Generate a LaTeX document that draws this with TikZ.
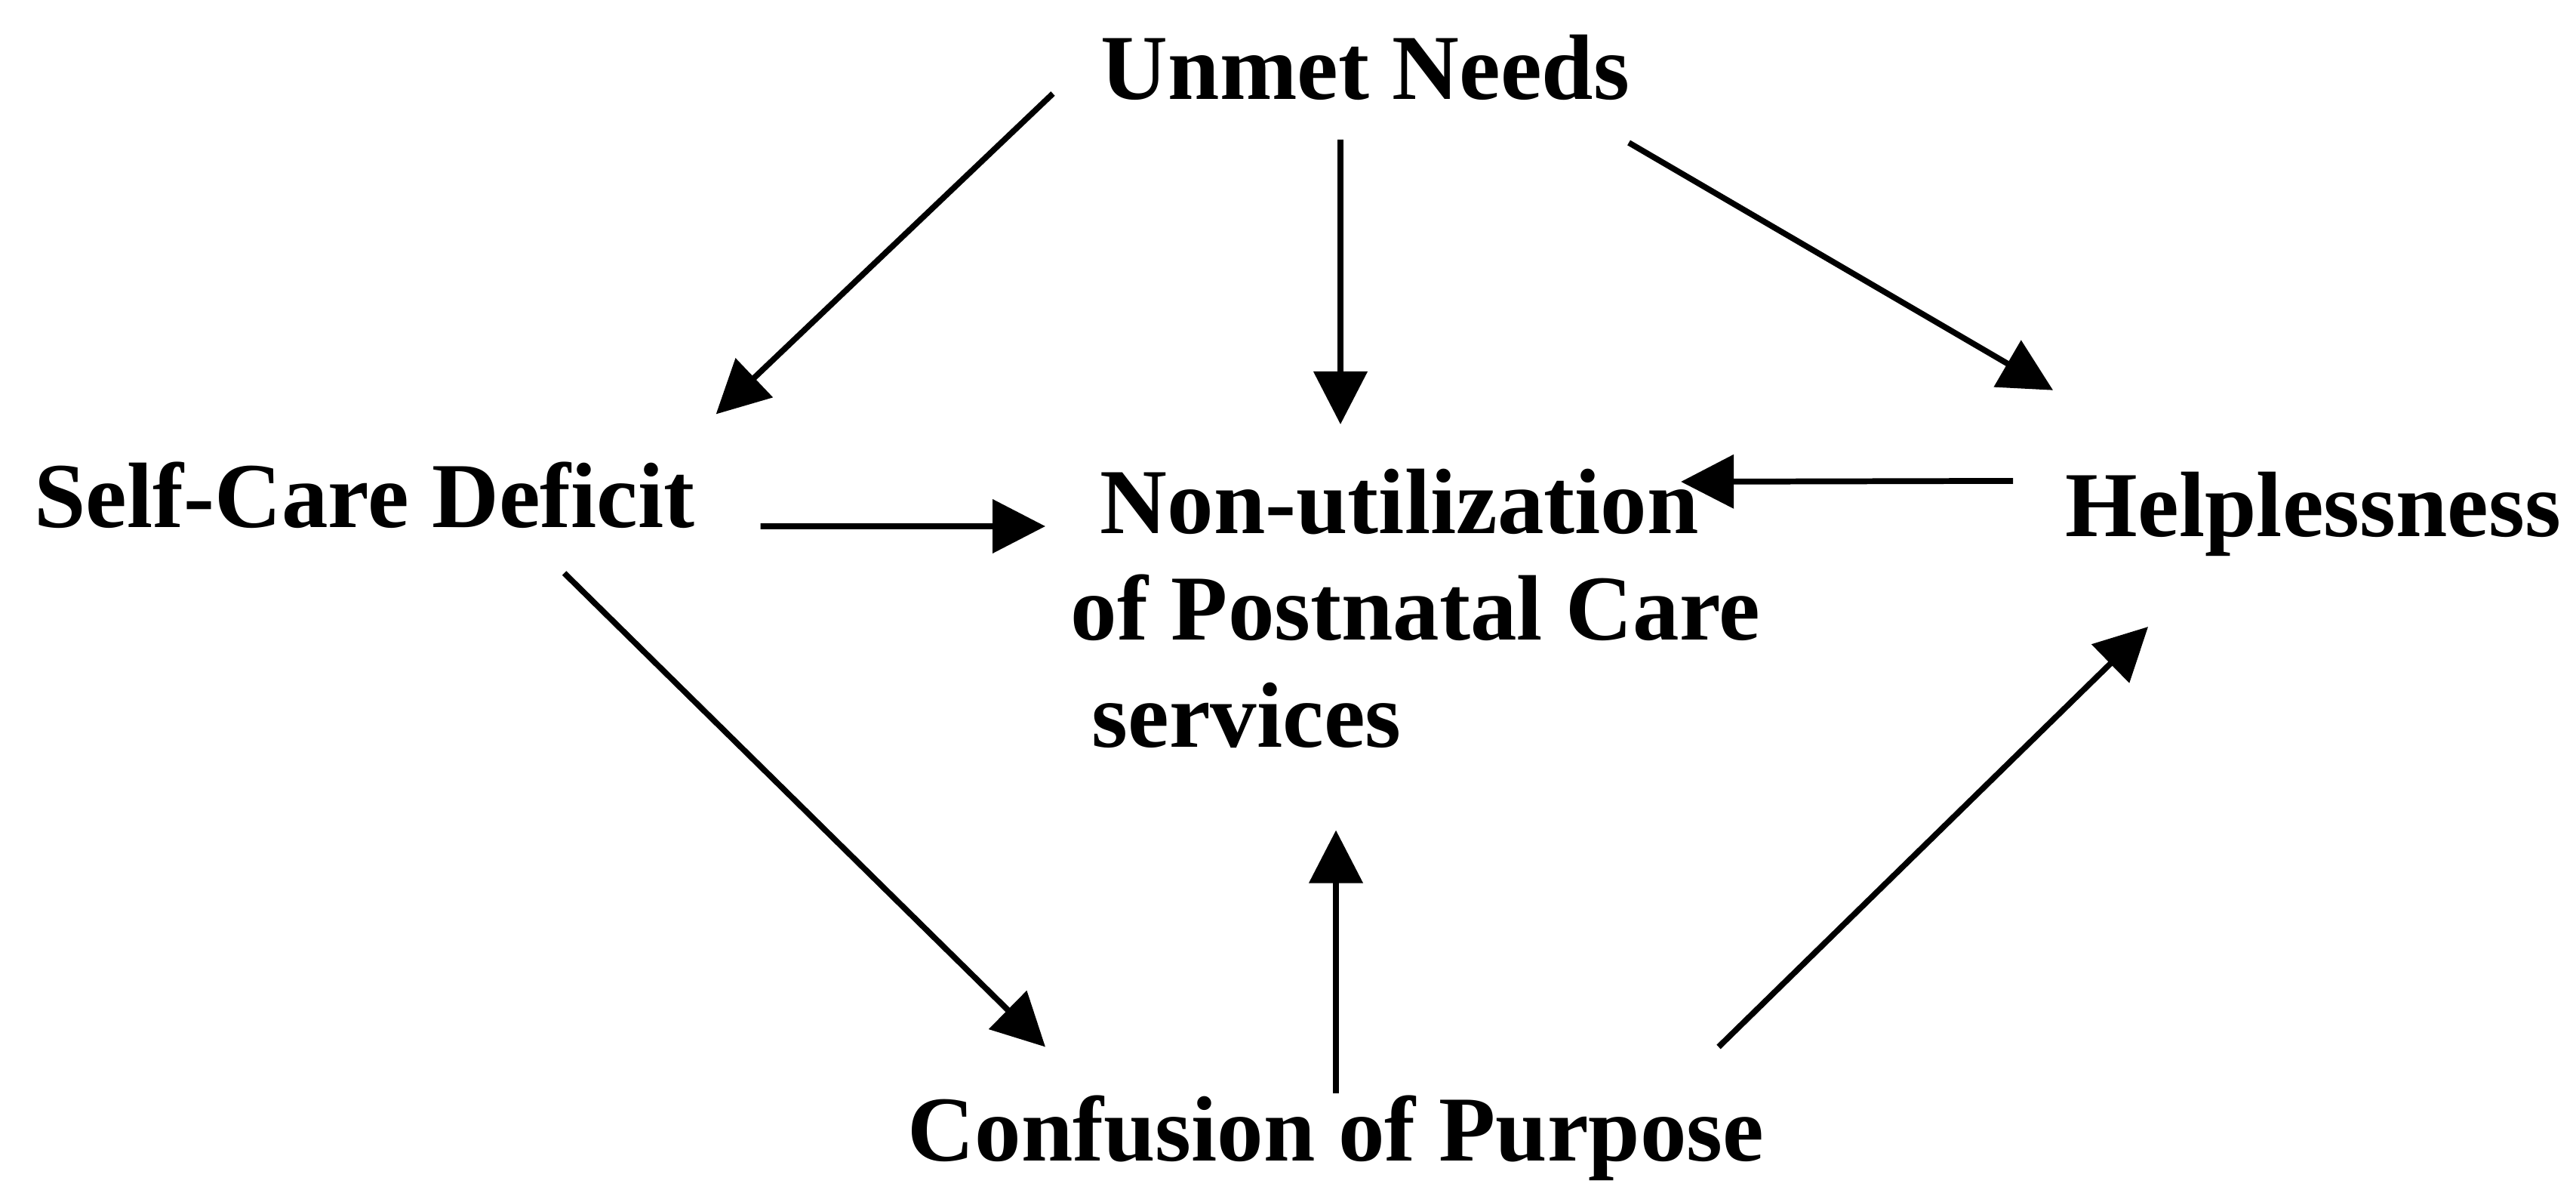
\documentclass[tikz,border=0pt]{standalone}
\usepackage{fontspec}
\setmainfont{Liberation Serif}
\usetikzlibrary{arrows.meta}

\begin{document}
\begin{tikzpicture}[
            > = {Triangle[length=0.7cm, width=0.7cm]},
            line width = 2.2pt,
            inner sep = 0pt
        ]

        \tikzstyle{concept}=[
            font = \bfseries\fontsize{35}{40.3}\selectfont,
            text = black
        ]

        \useasboundingbox (0,0) rectangle (34.13,15.79);

        \node[concept, anchor=base] (need) at (18.09,14.47) {Unmet Needs};
        \node[concept, anchor=base] (self) at (4.83,8.80) {Self-Care Deficit};
        \node[concept, anchor=north west, align=left] (nonuse) at (14.15,9.62)
            {\hspace*{0.39cm}Non-utilization\\of Postnatal Care\\\hspace*{0.28cm}services};
        \node[concept, anchor=base] (help) at (30.65,8.68) {Helplessness};
        \node[concept, anchor=base] (conf) at (17.70,0.42) {Confusion of Purpose};

        % from unmet needs
        \path[->] ([shift={(-0.6,0.08)}]need.base west) edge ([shift={(0.24,0.60)}]self.north east);
        \path[->] ([shift={(-0.33,-0.53)}]need.base) edge ([shift={(3.61,0.55)}]nonuse.north west);
        \path[->] ([shift={(-0.05,-0.57)}]need.base east) edge ([shift={(-0.13,1.05)}]help.north west);

        % into non-utilization
        \path[->] ([shift={(0.83,0.02)}]self.base east) edge ([shift={(-0.30,-0.80)}]nonuse.north west);
        \path[->] ([shift={(-0.66,0.445)}]help.west) edge ([shift={(-1.09,-0.21)}]nonuse.north east);
        \path[->] ([yshift=-0.01cm]conf.north) edge ([shift={(3.55,-1.05)}]nonuse.south west);

        % around confusion of purpose
        \path[->] ([shift={(-1.77,-0.55)}]self.south east) edge ([shift={(-3.85,0.60)}]conf.north);
        \path[->] ([shift={(5.07,0.60)}]conf.north) edge ([shift={(1.13,-0.89)}]help.south west);

    \end{tikzpicture}
\end{document}
